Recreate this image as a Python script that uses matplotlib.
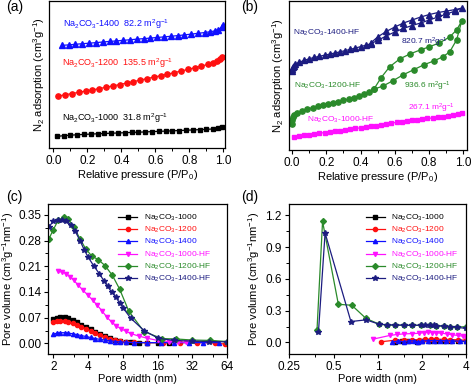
import matplotlib
matplotlib.use('Agg')
import matplotlib.pyplot as plt
from matplotlib.ticker import MultipleLocator, FixedLocator, FixedFormatter, NullFormatter

plt.rcParams['font.family'] = ['Liberation Sans', 'DejaVu Sans']
plt.rcParams['mathtext.default'] = 'regular'
plt.rcParams['axes.linewidth'] = 0.9

C_BLACK = '#000000'
C_RED = '#ff1010'
C_BLUE = '#1010ff'
C_MAG = '#ff10ff'
C_GREEN = '#2a8a2a'
C_NAVY = '#1c1c80'

# ---- (a) isotherms, untreated samples (arb. units)
pa_1000 = [0.02,0.06,0.10,0.14,0.18,0.22,0.26,0.30,0.34,0.38,0.42,0.46,0.50,0.54,0.58,0.62,0.66,0.70,0.74,0.78,0.82,0.86,0.90,0.94,0.97,0.99]
va_1000 = [11.7,12.5,13.0,13.4,13.8,14.1,14.4,14.7,15.0,15.2,15.5,15.8,16.0,16.3,16.6,16.9,17.1,17.4,17.7,18.0,18.3,18.6,18.9,19.3,19.8,21.0]
pa_1200 = [0.03,0.07,0.11,0.15,0.19,0.23,0.27,0.31,0.35,0.39,0.43,0.47,0.51,0.55,0.59,0.63,0.67,0.71,0.75,0.79,0.83,0.87,0.91,0.94,0.96,0.98,0.99]
va_1200 = [52.7,54.0,55.2,56.5,57.7,58.9,60.2,61.6,63.0,64.3,65.8,67.2,68.8,70.3,71.8,73.3,74.8,76.3,78.0,79.6,81.3,83.0,84.8,86.3,87.8,89.8,92.0]
pa_1400 = [0.05,0.09,0.13,0.17,0.21,0.25,0.29,0.33,0.37,0.41,0.45,0.49,0.53,0.57,0.61,0.65,0.69,0.73,0.77,0.81,0.85,0.89,0.92,0.95,0.97,0.99,1.0]
va_1400 = [104.0,104.5,105.1,105.7,106.2,106.8,107.4,108.0,108.5,109.1,109.7,110.3,110.8,111.4,112.0,112.6,113.2,113.9,114.6,115.4,116.2,117.0,117.8,118.7,120.0,122.5,125.0]

# ---- (b) isotherms, HF treated (adsorption then desorption branch)
pb_1000 = [0.01,0.04,0.07,0.10,0.13,0.16,0.19,0.22,0.25,0.28,0.31,0.34,0.37,0.40,0.43,0.46,0.49,0.52,0.55,0.58,0.61,0.64,0.67,0.70,0.73,0.76,0.79,0.82,0.85,0.88,0.91,0.94,0.97,0.99]
vb_1000 = [13.3,14.2,15.0,15.6,16.3,17.0,17.7,18.4,19.1,19.7,20.4,21.0,21.8,22.5,23.2,24.0,24.7,25.6,26.4,27.2,28.0,28.8,29.5,30.2,30.8,31.3,31.9,32.4,33.0,33.6,34.3,35.2,36.5,37.7]
pb_1200 = [0.0,0.001,0.005,0.01,0.03,0.06,0.09,0.12,0.15,0.18,0.21,0.24,0.27,0.30,0.33,0.36,0.39,0.42,0.45,0.48,0.53,0.59,0.65,0.71,0.77,0.83,0.88,0.92,0.96,0.99,
           0.96,0.92,0.86,0.80,0.75,0.69,0.63,0.57,0.52,0.48]
vb_1200 = [26.7,30.0,33.0,35.0,37.3,39.5,41.3,42.8,44.0,45.2,46.3,47.5,48.7,50.0,51.5,53.0,54.8,56.7,58.8,61.5,64.5,70.0,76.0,81.0,86.0,90.0,94.0,99.0,111.0,130.0,
           121.0,114.0,108.0,104.0,101.0,97.0,92.0,84.0,73.0,62.0]
pb_1400 = [0.0,0.002,0.005,0.01,0.02,0.04,0.07,0.10,0.13,0.16,0.19,0.22,0.25,0.28,0.31,0.34,0.37,0.40,0.43,0.46,0.50,0.55,0.60,0.65,0.70,0.75,0.80,0.85,0.90,0.95,0.99,
           0.95,0.90,0.85,0.80,0.75,0.70,0.65,0.60,0.55,0.50,0.46]
vb_1400 = [80.0,82.0,83.5,85.0,86.7,88.3,90.3,92.0,93.3,94.5,95.6,96.7,97.8,99.0,100.2,101.5,102.8,104.2,105.6,107.2,110.5,115.0,119.0,122.5,125.5,128.0,131.0,134.0,137.0,140.0,143.0,
           141.5,140.0,138.5,136.5,134.0,131.0,128.0,124.0,119.5,114.0,108.0]

# ---- (c) pore size distribution, mesopores
wc_1000 = [2.0,2.15,2.3,2.5,2.7,2.95,3.2,3.5,3.8,4.2,4.6,5.1,5.6,6.2,6.9,7.6,8.5,9.5,11,13,16,20]
vc_1000 = [0.066,0.070,0.073,0.072,0.068,0.064,0.058,0.051,0.045,0.038,0.031,0.025,0.019,0.014,0.010,0.006,0.004,0.003,0.002,0.002,0.002,0.002]
wc_1200 = [2.0,2.15,2.3,2.5,2.7,2.95,3.2,3.5,3.8,4.2,4.6,5.1,5.6,6.2,6.9,7.6,8.5,10,13,18,25,35,50,62]
vc_1200 = [0.057,0.060,0.061,0.060,0.058,0.055,0.050,0.045,0.040,0.034,0.028,0.022,0.017,0.012,0.008,0.006,0.004,0.003,0.002,0.002,0.002,0.002,0.001,-0.002]
wc_1400 = [2.0,2.15,2.3,2.5,2.7,2.95,3.2,3.5,3.8,4.2,4.6,5.1,5.6,6.2,6.9,7.6,8.5,10,13,17,22,30,40,55]
vc_1400 = [0.025,0.028,0.029,0.029,0.028,0.026,0.024,0.021,0.019,0.016,0.013,0.011,0.009,0.007,0.005,0.004,0.003,0.002,0.002,0.002,0.002,0.002,0.002,0.002]
wc_1000hf = [2.2,2.4,2.6,2.8,3.0,3.3,3.6,4.0,4.4,4.8,5.3,5.8,6.4,7.0,7.7,8.5,9.5,11,13,16,20,24,28]
vc_1000hf = [0.196,0.194,0.190,0.182,0.172,0.158,0.145,0.131,0.117,0.104,0.088,0.072,0.058,0.048,0.040,0.033,0.026,0.020,0.014,0.008,0.005,0.004,0.003]
wc_1200hf = [1.82,2.0,2.2,2.45,2.7,3.0,3.4,3.8,4.3,4.9,5.6,6.5,7.5,9.0,12.2,17.5,23,32,46,64]
vc_1200hf = [0.283,0.310,0.335,0.343,0.338,0.318,0.285,0.258,0.238,0.228,0.212,0.185,0.148,0.088,0.032,0.013,0.012,0.009,0.008,0.005]
wc_1400hf = [1.82,2.0,2.2,2.4,2.6,2.85,3.1,3.4,3.7,4.0,4.5,5.0,5.5,5.9,6.4,7.0,7.5,8.1,9.4,12.2,16.2,22,32,45,64]
vc_1400hf = [0.316,0.333,0.336,0.336,0.334,0.322,0.305,0.280,0.255,0.235,0.210,0.190,0.170,0.155,0.140,0.125,0.110,0.095,0.068,0.035,0.014,0.008,0.006,0.005,0.004]

# ---- (d) pore size distribution, micropores
wd_1000 = [1.3,1.45,1.6,1.85,2.0,2.25,2.5,2.8,3.1,3.5,4.0]
vd_1000 = [0.005,0.010,0.012,0.000,0.012,0.014,0.015,0.014,0.013,0.012,0.010]
wd_1200 = [1.05,1.3,1.5,1.7,1.9,2.1,2.3,2.5,2.8,3.1,3.5,4.0]
vd_1200 = [0.006,0.020,0.022,0.024,0.026,0.028,0.030,0.030,0.029,0.027,0.024,0.020]
wd_1400 = [1.25,1.38,1.5,1.62,1.75,1.88,2.0,2.2,2.4,2.65,2.9,3.2,3.6,4.0]
vd_1400 = [0.000,0.015,0.003,0.016,0.014,0.005,0.014,0.016,0.016,0.016,0.015,0.014,0.012,0.010]
wd_1000hf = [0.93,1.2,1.35,1.5,1.7,1.9,2.05,2.2,2.35,2.5,2.7,2.95,3.2,3.5,3.8,4.0]
vd_1000hf = [0.031,0.065,0.075,0.080,0.083,0.086,0.092,0.095,0.093,0.090,0.087,0.080,0.072,0.065,0.058,0.052]
wd_1200hf = [0.385,0.42,0.538,0.664,0.83,1.02,1.15,1.31,1.5,1.71,1.95,2.27,2.5,2.8,3.1,3.46,3.97]
vd_1200hf = [0.116,1.144,0.360,0.351,0.226,0.172,0.166,0.163,0.163,0.160,0.163,0.160,0.157,0.154,0.150,0.148,0.146]
wd_1400hf = [0.394,0.437,0.655,0.83,1.02,1.15,1.31,1.5,1.71,1.95,2.1,2.27,2.4,2.5,2.8,3.1,3.46,3.97]
vd_1400hf = [0.100,1.035,0.197,0.213,0.172,0.166,0.163,0.163,0.160,0.163,0.164,0.160,0.160,0.157,0.154,0.148,0.142,0.132]

names = ['1000', '1200', '1400', '1000-HF', '1200-HF', '1400-HF']
colors = [C_BLACK, C_RED, C_BLUE, C_MAG, C_GREEN, C_NAVY]
markers = ['s', 'o', '^', 'v', 'D', '*']


def lab(s):
    return r'Na$_2$CO$_3$-' + s


def style(ax, xlabel, ylabel, fs=8):
    ax.tick_params(direction='out', length=3, width=0.8, labelsize=8.5, top=False, right=False, pad=2)
    ax.tick_params(which='minor', direction='out', length=2, width=0.7)
    ax.set_xlabel(xlabel, fontsize=fs, labelpad=1)
    ax.set_ylabel(ylabel, fontsize=fs, labelpad=2)


def psd_legend(ax, xr):
    leg = ax.legend(loc='upper right', bbox_to_anchor=(xr, 0.975), fontsize=6, frameon=False,
                    handlelength=2.3, handletextpad=0.8, labelspacing=0.25, borderaxespad=0.2)
    for t, c in zip(leg.get_texts(), colors):
        t.set_color(c)


fig = plt.figure(figsize=(4.74, 3.90), dpi=100)

# (a)
ax = fig.add_axes([0.104, 0.6205, 0.371, 0.377])
ax.plot(pa_1000, va_1000, '-s', color=C_BLACK, ms=3.4, lw=0.9)
ax.plot(pa_1200, va_1200, '-o', color=C_RED, ms=3.8, lw=0.9)
ax.plot(pa_1400, va_1400, '-^', color=C_BLUE, ms=4.0, lw=0.9)
ax.set_xlim(-0.024, 1.01)
ax.set_ylim(0, 149)
ax.set_yticks([])
ax.xaxis.set_major_locator(MultipleLocator(0.2))
ax.xaxis.set_minor_locator(MultipleLocator(0.1))
ax.xaxis.set_major_formatter(plt.FormatStrFormatter('%.1f'))
style(ax, 'Relative pressure (P/P$_0$)', 'N$_2$ adsorption (cm$^3$g$^{-1}$)')
ax.text(0.08, 0.844, lab('1400') + '  82.2 m$^2$g$^{-1}$', color=C_BLUE, fontsize=6.5, transform=ax.transAxes, va='center')
ax.text(0.07, 0.578, lab('1200') + '  135.5 m$^2$g$^{-1}$', color=C_RED, fontsize=6.5, transform=ax.transAxes, va='center')
ax.text(0.07, 0.204, lab('1000') + '  31.8 m$^2$g$^{-1}$', color=C_BLACK, fontsize=6.5, transform=ax.transAxes, va='center')

# (b)
ax = fig.add_axes([0.609, 0.615, 0.376, 0.382])
ax.plot(pb_1000, vb_1000, '-s', color=C_MAG, ms=3.4, lw=0.9)
ax.plot(pb_1200, vb_1200, '-o', color=C_GREEN, ms=3.8, lw=0.9)
ax.plot(pb_1400, vb_1400, '-^', color=C_NAVY, ms=4.0, lw=0.9)
ax.set_xlim(-0.019, 1.02)
ax.set_ylim(0, 150)
ax.set_yticks([])
ax.xaxis.set_major_locator(MultipleLocator(0.2))
ax.xaxis.set_minor_locator(MultipleLocator(0.1))
ax.xaxis.set_major_formatter(plt.FormatStrFormatter('%.1f'))
style(ax, 'Relative pressure (P/P$_0$)', 'N$_2$ adsorption (cm$^3$g$^{-1}$)')
ax.text(0.024, 0.785, lab('1400-HF'), color=C_NAVY, fontsize=6, transform=ax.transAxes, va='center')
ax.text(0.63, 0.725, '820.7 m$^2$g$^{-1}$', color=C_NAVY, fontsize=6, transform=ax.transAxes, va='center')
ax.text(0.031, 0.43, lab('1200-HF'), color=C_GREEN, fontsize=6, transform=ax.transAxes, va='center')
ax.text(0.645, 0.43, '936.6 m$^2$g$^{-1}$', color=C_GREEN, fontsize=6, transform=ax.transAxes, va='center')
ax.text(0.667, 0.28, '267.1 m$^2$g$^{-1}$', color=C_MAG, fontsize=6, transform=ax.transAxes, va='center')
ax.text(0.103, 0.206, lab('1000-HF'), color=C_MAG, fontsize=6, transform=ax.transAxes, va='center')

# (c)
ax = fig.add_axes([0.102, 0.0923, 0.377, 0.385])
series_c = [(wc_1000, vc_1000), (wc_1200, vc_1200), (wc_1400, vc_1400),
            (wc_1000hf, vc_1000hf), (wc_1200hf, vc_1200hf), (wc_1400hf, vc_1400hf)]
for (w, v), n, c, m in zip(series_c, names, colors, markers):
    ax.plot(w, v, '-', marker=m, color=c, ms=3.0 if m != '*' else 4.0, lw=0.9, label=lab(n))
ax.set_xscale('log', base=2)
ax.set_xlim(1.81, 64)
ax.set_ylim(-0.029, 0.38)
ax.xaxis.set_major_locator(FixedLocator([2, 4, 8, 16, 32, 64]))
ax.xaxis.set_major_formatter(FixedFormatter(['2', '4', '8', '16', '32', '64']))
ax.xaxis.set_minor_locator(FixedLocator([3, 6, 12, 24, 48]))
ax.xaxis.set_minor_formatter(NullFormatter())
ax.yaxis.set_major_locator(MultipleLocator(0.07))
ax.yaxis.set_minor_locator(MultipleLocator(0.035))
ax.yaxis.set_major_formatter(plt.FormatStrFormatter('%.2f'))
style(ax, 'Pore width (nm)', 'Pore volume (cm$^3$g$^{-1}$nm$^{-1}$)')
psd_legend(ax, 0.94)

# (d)
ax = fig.add_axes([0.609, 0.0923, 0.375, 0.385])
series_d = [(wd_1000, vd_1000), (wd_1200, vd_1200), (wd_1400, vd_1400),
            (wd_1000hf, vd_1000hf), (wd_1200hf, vd_1200hf), (wd_1400hf, vd_1400hf)]
for (w, v), n, c, m in zip(series_d, names, colors, markers):
    ax.plot(w, v, '-', marker=m, color=c, ms=3.0 if m != '*' else 4.0, lw=0.9, label=lab(n))
ax.set_xscale('log', base=2)
ax.set_xlim(0.247, 4.0)
ax.set_ylim(-0.11, 1.31)
ax.xaxis.set_major_locator(FixedLocator([0.25, 0.5, 1, 2, 4]))
ax.xaxis.set_major_formatter(FixedFormatter(['0.25', '0.5', '1', '2', '4']))
ax.xaxis.set_minor_locator(FixedLocator([0.375, 0.75, 1.5, 3]))
ax.xaxis.set_minor_formatter(NullFormatter())
ax.yaxis.set_major_locator(MultipleLocator(0.3))
ax.yaxis.set_minor_locator(MultipleLocator(0.15))
ax.yaxis.set_major_formatter(plt.FormatStrFormatter('%.1f'))
style(ax, 'Pore width (nm)', 'Pore volume (cm$^3$g$^{-1}$nm$^{-1}$)')
psd_legend(ax, 0.985)

fig.text(0.012, 0.982, '(a)', fontsize=10, va='center')
fig.text(0.508, 0.982, '(b)', fontsize=10, va='center')
fig.text(0.012, 0.495, '(c)', fontsize=10, va='center')
fig.text(0.508, 0.495, '(d)', fontsize=10, va='center')

fig.savefig('out.png', dpi=100)
